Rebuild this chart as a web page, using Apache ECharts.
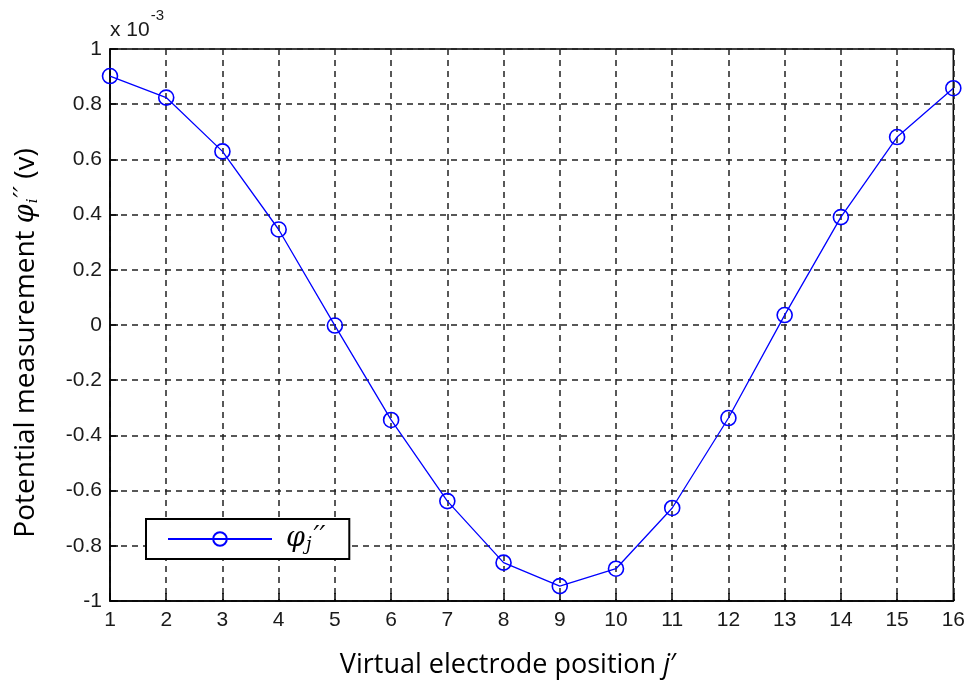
<!DOCTYPE html>
<html>
<head>
<meta charset="utf-8">
<script src="https://cdn.jsdelivr.net/npm/echarts@6/dist/echarts.min.js"></script>
<style>
  html, body { margin: 0; padding: 0; background: #fff; }
  #chart { width: 968px; height: 685px; }
</style>
</head>
<body>
<div id="chart"></div>
<script>
// Electrode positions along the virtual array
const positions = [1, 2, 3, 4, 5, 6, 7, 8, 9, 10, 11, 12, 13, 14, 15, 16];
// Measured potential, in units of 1e-3 V
const potential = [0.902, 0.824, 0.629, 0.346, -0.002, -0.344, -0.638, -0.861,
                   -0.946, -0.883, -0.663, -0.337, 0.036, 0.391, 0.681, 0.858];
const seriesName = 'phi_j';

const chart = echarts.init(document.getElementById('chart'), null, { renderer: 'canvas' });

const labelFont = { fontFamily: 'Liberation Sans', fontSize: 21, color: '#1a1a1a' };
const titleFont = 'Open Sans';

chart.setOption({
  animation: false,
  backgroundColor: '#fff',
  grid: {
    left: 110, top: 49, right: 14, bottom: 84,
    show: true, borderColor: '#000', borderWidth: 1.5, backgroundColor: 'transparent'
  },
  xAxis: {
    type: 'value', min: 1, max: 16, interval: 1,
    axisLine: { show: true, onZero: false, lineStyle: { color: '#000', width: 1.5 } },
    axisTick: { show: true, inside: true, length: 8, lineStyle: { color: '#000', width: 1.5 } },
    axisLabel: Object.assign({ margin: 9 }, labelFont),
    splitLine: { show: true, lineStyle: { color: '#222', width: 1.5, type: [6, 5] } }
  },
  yAxis: {
    type: 'value', min: -1, max: 1, interval: 0.2,
    axisLine: { show: true, onZero: false, lineStyle: { color: '#000', width: 1.5 } },
    axisTick: { show: true, inside: true, length: 8, lineStyle: { color: '#000', width: 1.5 } },
    axisLabel: Object.assign({
      margin: 8,
      formatter: v => String(Number(v.toFixed(1)))
    }, labelFont),
    splitLine: { show: true, lineStyle: { color: '#222', width: 1.5, type: [6, 5] } }
  },
  legend: {
    left: 146, top: 519,
    orient: 'horizontal',
    backgroundColor: '#fff',
    borderColor: '#000', borderWidth: 2, borderRadius: 0,
    padding: [5, 24, 5, 21],
    itemWidth: 104, itemHeight: 17,
    formatter: () => '{p|φ}{s|j}{q|′′}',
    textStyle: {
      padding: [0, 0, 0, 9],
      rich: {
        p: { fontFamily: 'DejaVu Serif', fontStyle: 'italic', fontSize: 27, color: '#000' },
        s: { fontFamily: 'DejaVu Serif', fontStyle: 'italic', fontSize: 18, color: '#000', verticalAlign: 'bottom', padding: [12, 0, 0, 1] },
        q: { fontFamily: 'DejaVu Serif', fontStyle: 'italic', fontSize: 26, color: '#000', verticalAlign: 'top', padding: [0, 0, 2, 2] }
      }
    },
    data: [seriesName]
  },
  series: [{
    name: seriesName,
    type: 'line',
    data: positions.map((p, i) => [p, potential[i]]),
    symbol: 'circle',
    symbolSize: 15,
    showAllSymbol: true,
    lineStyle: { color: '#0000ff', width: 1.3 },
    itemStyle: { color: 'none', borderColor: '#0000ff', borderWidth: 1.6 }
  }],
  graphic: [
    {
      type: 'text', left: 110, top: 8,
      style: {
        text: '{b|x 10}{e|-3}',
        rich: {
          b: { fontFamily: 'Liberation Sans', fontSize: 21, fill: '#1a1a1a', padding: [12, 0, 0, 0] },
          e: { fontFamily: 'Liberation Sans', fontSize: 15, fill: '#1a1a1a', verticalAlign: 'top', padding: [0, 0, 12, 1] }
        }
      }
    },
    {
      type: 'text', x: 508, y: 665,
      style: {
        text: '{n|Virtual electrode position }{j|j}{n|′}',
        align: 'center', verticalAlign: 'middle',
        rich: {
          n: { fontFamily: titleFont, fontSize: 27, fill: '#000' },
          j: { fontFamily: titleFont, fontSize: 27, fontStyle: 'italic', fill: '#000' }
        }
      }
    },
    {
      type: 'text', x: 26, y: 343, rotation: Math.PI / 2,
      style: {
        text: '{n|Potential measurement }{p|φ}{s|i}{q|′′}{n| (v)}',
        align: 'center', verticalAlign: 'middle',
        rich: {
          n: { fontFamily: titleFont, fontSize: 28, fill: '#000' },
          p: { fontFamily: 'DejaVu Serif', fontStyle: 'italic', fontSize: 27, fill: '#000' },
          s: { fontFamily: 'DejaVu Serif', fontStyle: 'italic', fontSize: 15, fill: '#000', verticalAlign: 'bottom', padding: [11, 0, 0, 1] },
          q: { fontFamily: 'DejaVu Serif', fontStyle: 'italic', fontSize: 25, fill: '#000', verticalAlign: 'top', padding: [0, 0, 4, 1] }
        }
      }
    }
  ]
});
</script>
</body>
</html>
